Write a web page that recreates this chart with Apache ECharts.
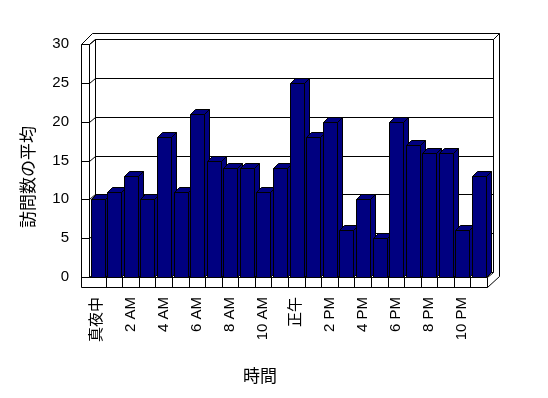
<!DOCTYPE html>
<html>
<head>
<meta charset="utf-8">
<script src="https://cdn.jsdelivr.net/npm/echarts@6/dist/echarts.min.js"></script>
<style>
  html, body { margin: 0; background: #fff; }
  #main { width: 548px; height: 398px; }
</style>
</head>
<body>
<div id="main"></div>
<script>
// 時間帯ごとの訪問数の平均
const hours = ['真夜中', '1 AM', '2 AM', '3 AM', '4 AM', '5 AM', '6 AM', '7 AM', '8 AM', '9 AM', '10 AM', '11 AM',
  '正午', '1 PM', '2 PM', '3 PM', '4 PM', '5 PM', '6 PM', '7 PM', '8 PM', '9 PM', '10 PM', '11 PM']
const visits = [10, 11, 13, 10, 18, 11, 21, 15, 14, 14, 11, 14, 25, 18, 20, 6, 10, 5, 20, 17, 16, 16, 6, 13]
const yTicks = [0, 5, 10, 15, 20, 25, 30]

const FONT = '"Liberation Sans", "Noto Sans CJK JP", sans-serif'
const JP_FONT = '"Noto Sans CJK JP", sans-serif'
const BAR_COLOR = '#000080'
// 奥行き (疑似3D)
const BAR_DX = 5, BAR_DY = 5
const WALL_DX = 6, WALL_DY = 5

const px = v => Math.round(v) + 0.5

function seg(x1, y1, x2, y2) {
  return { type: 'line', shape: { x1, y1, x2, y2 }, style: { stroke: '#000', lineWidth: 1 } }
}

// 壁・床・目盛線
function renderFrame(params, api) {
  const cs = params.coordSys
  const L = px(cs.x), T = px(cs.y), R = px(cs.x + cs.width), B = px(cs.y + cs.height)
  const OL = L - 8, OT = T - 11, OR = R + 12, OB = B + 10
  const bw = api.size([1, 0])[0]
  const kids = []
  // 外枠
  kids.push(seg(OL, T, OL, OB))
  kids.push(seg(OL, T, L, T))
  kids.push(seg(OL, T, OL + 11, OT))
  kids.push(seg(OL + 11, OT, OR, OT))
  kids.push(seg(R + WALL_DX, T - WALL_DY, OR, OT))
  kids.push(seg(OR, OT, OR, OB - 11))
  kids.push(seg(OL, OB, R, OB))
  kids.push(seg(R, OB, OR, OB - 11))
  // 内側 (奥の壁)
  kids.push(seg(L, T, L, B))
  kids.push(seg(L, T, L + WALL_DX, T - WALL_DY))
  kids.push(seg(L + WALL_DX, T - WALL_DY, R + WALL_DX, T - WALL_DY))
  kids.push(seg(L + WALL_DX, T - WALL_DY, L + WALL_DX, B - WALL_DY))
  kids.push(seg(R + WALL_DX, T - WALL_DY, R + WALL_DX, B - WALL_DY))
  kids.push(seg(L, B, R, B))
  kids.push(seg(R, B, R + WALL_DX, B - WALL_DY))
  // 目盛線
  yTicks.forEach(t => {
    const y = px(api.coord([0, t])[1])
    kids.push(seg(OL, y, L, y))
    kids.push(seg(L, y, L + WALL_DX, y - WALL_DY))
    kids.push(seg(L + WALL_DX, y - WALL_DY, R + WALL_DX, y - WALL_DY))
  })
  // 床の区切り
  for (let k = 1; k <= hours.length; k++) {
    const x = px(cs.x + k * bw)
    kids.push(seg(x, B, x, OB))
  }
  return { type: 'group', children: kids }
}

function renderBar(params, api) {
  const i = api.value(0)
  const base = api.coord([i, 0])
  const top = api.coord([i, api.value(1)])
  const bw = api.size([1, 0])[0]
  const x1 = px(base[0] - bw / 2 + bw * 0.1)
  const x2 = x1 + Math.round(bw * 0.84)
  const yb = px(base[1]), yt = px(top[1])
  const style = { fill: BAR_COLOR, stroke: '#000', lineWidth: 1 }
  return {
    type: 'group',
    children: [
      { type: 'polygon', shape: { points: [[x2, yt], [x2 + BAR_DX, yt - BAR_DY], [x2 + BAR_DX, yb - BAR_DY], [x2, yb]] }, style },
      { type: 'polygon', shape: { points: [[x1, yt], [x1 + BAR_DX, yt - BAR_DY], [x2 + BAR_DX, yt - BAR_DY], [x2, yt]] }, style },
      { type: 'polygon', shape: { points: [[x1, yt], [x2, yt], [x2, yb], [x1, yb]] }, style }
    ]
  }
}

const chart = echarts.init(document.getElementById('main'))
const option = {
  backgroundColor: '#fff',
  animation: false,
  grid: { left: 89, right: 61, top: 44, bottom: 121 },
  xAxis: {
    type: 'category',
    data: hours,
    axisLine: { show: false },
    axisTick: { show: false },
    axisLabel: { interval: 1, rotate: 90, margin: 20, color: '#000', fontSize: 15, fontFamily: FONT }
  },
  yAxis: {
    type: 'value',
    min: 0,
    max: 30,
    interval: 5,
    axisLine: { show: false },
    axisTick: { show: false },
    splitLine: { show: false },
    axisLabel: { margin: 20, color: '#000', fontSize: 15, fontFamily: FONT }
  },
  graphic: [
    { type: 'text', x: 28, y: 177, rotation: Math.PI / 2,
      style: { text: '訪問数の平均', fill: '#000', font: '17px ' + JP_FONT, align: 'center', verticalAlign: 'middle' } },
    { type: 'text', x: 260, y: 376,
      style: { text: '時間', fill: '#000', font: '17px ' + JP_FONT, align: 'center', verticalAlign: 'middle' } }
  ],
  series: [
    { type: 'custom', name: 'frame', renderItem: renderFrame, data: [[0, 0]], z: 1, silent: true },
    { type: 'custom', name: '訪問数の平均', renderItem: renderBar, data: visits.map((v, i) => [i, v]),
      encode: { x: 0, y: 1 }, z: 2 }
  ]
}
chart.setOption(option)
</script>
</body>
</html>
